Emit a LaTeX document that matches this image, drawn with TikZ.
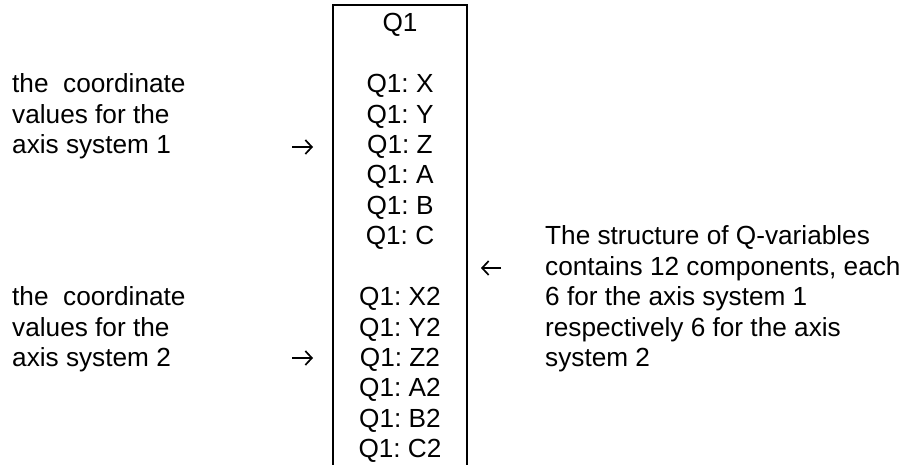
\documentclass[tikz,border=0pt]{standalone}
\usepackage{fontspec}
\setmainfont{Liberation Sans}
\usetikzlibrary{arrows.meta}
\frenchspacing
\tikzset{
  boxtxt/.style={anchor=base, inner sep=0pt, font=\fontsize{26.2}{30.4}\selectfont},
  note/.style={anchor=base west, inner sep=0pt, font=\fontsize{26.2}{30.4}\selectfont},
  pointer/.style={line width=1.7pt, -{Straight Barb[length=6.5pt,width=14pt]}}
}
\begin{document}
\begin{tikzpicture}[x=1pt,y=-1pt]
        \useasboundingbox (0,0) rectangle (905,465);
        % the Q1 column, open at the bottom
        \draw [line width=2pt] (333,465) -- (333,5) -- (467,5) -- (467,465);
        \node[boxtxt] (q1) at (400,32) {Q1};
        \foreach \v [count=\i from 2] in {X,Y,Z,A,B,C}
            \node[boxtxt] (q1-\v) at (400,{32+30.4*\i}) {Q1: \v};
        \foreach \v [count=\i from 9] in {X2,Y2,Z2,A2,B2,C2}
            \node[boxtxt] (q1-\v) at (400,{32+30.4*\i}) {Q1: \v};
        % notes on the left
        \node[note] (axa1) at (12,{32+30.4*2}) {the\ \ coordinate};
        \node[note] (axb1) at (12,{32+30.4*3}) {values for the};
        \node[note] (axc1) at (12,{32+30.4*4}) {axis system 1};
        \node[note] (axa2) at (12,{32+30.4*9}) {the\ \ coordinate};
        \node[note] (axb2) at (12,{32+30.4*10}) {values for the};
        \node[note] (axc2) at (12,{32+30.4*11}) {axis system 2};
        % note on the right
        \node[note] (st1) at (545,{32+30.4*7}) {The structure of Q-variables};
        \node[note] (st2) at (545,{32+30.4*8}) {contains 12 components, each};
        \node[note] (st3) at (545,{32+30.4*9}) {6 for the axis system 1};
        \node[note] (st4) at (545,{32+30.4*10}) {respectively 6 for the axis};
        \node[note] (st5) at (545,{32+30.4*11}) {system 2};
        % the small arrows
        \coordinate (arr1s) at (292,147);
        \coordinate (arr1e) at (313,147);
        \coordinate (arr2s) at (292,358);
        \coordinate (arr2e) at (313,358);
        \coordinate (arr3s) at (501,268);
        \coordinate (arr3e) at (481,268);
        \draw[pointer] (arr1s) -- (arr1e);
        \draw[pointer] (arr2s) -- (arr2e);
        \draw[pointer] (arr3s) -- (arr3e);
\end{tikzpicture}
\end{document}
